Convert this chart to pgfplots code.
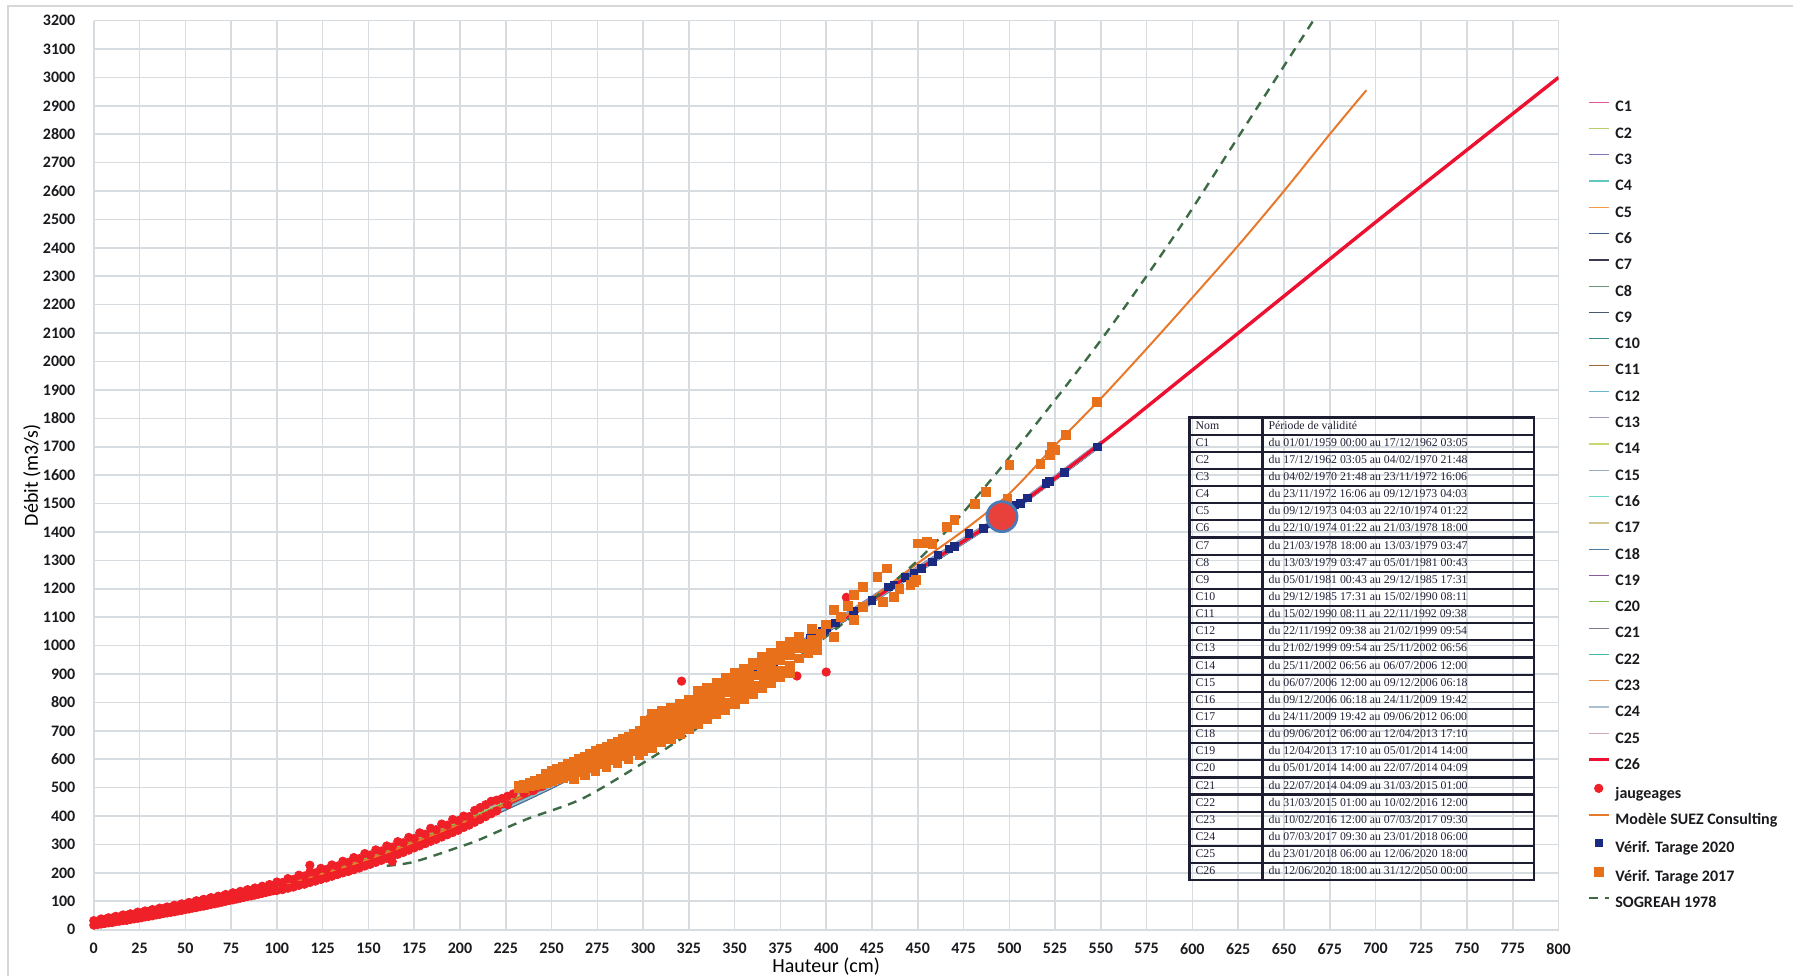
\documentclass[border=0pt]{standalone}
\usepackage{fontspec}
\setmainfont{Carlito}
\newfontfamily\tabfont{Liberation Serif}
\usepackage{pgfplots}
\usepackage{pgfplotstable}
\pgfplotsset{compat=1.18}
\definecolor{gridc}{RGB}{214,220,224}
\definecolor{tickc}{RGB}{26,26,30}
\definecolor{c1}{HTML}{E0569A}
\definecolor{c2}{HTML}{B5CF6B}
\definecolor{c3}{HTML}{7B7BB5}
\definecolor{c4}{HTML}{5FC8C0}
\definecolor{c5}{HTML}{F39A4A}
\definecolor{c6}{HTML}{3F5E8A}
\definecolor{c7}{HTML}{3A3A55}
\definecolor{c8}{HTML}{6A9A7A}
\definecolor{c9}{HTML}{4A5A6A}
\definecolor{c10}{HTML}{3A8A8A}
\definecolor{c11}{HTML}{9A6A3A}
\definecolor{c12}{HTML}{6AB8D0}
\definecolor{c13}{HTML}{9A98C8}
\definecolor{c14}{HTML}{C8D870}
\definecolor{c15}{HTML}{9AA8C0}
\definecolor{c16}{HTML}{70D8C8}
\definecolor{c17}{HTML}{D0C890}
\definecolor{c18}{HTML}{4A7AA0}
\definecolor{c19}{HTML}{8A5AA0}
\definecolor{c20}{HTML}{7AC050}
\definecolor{c21}{HTML}{7A8090}
\definecolor{c22}{HTML}{40B8B0}
\definecolor{c23}{HTML}{E8904A}
\definecolor{c24}{HTML}{A8C0D0}
\definecolor{c25}{HTML}{D0A8B8}
\definecolor{c26}{HTML}{EE1030}
\definecolor{jaug}{HTML}{F02028}
\definecolor{suez}{HTML}{E8782A}
\definecolor{v2020}{HTML}{1B2A80}
\definecolor{v2017}{HTML}{E8701A}
\definecolor{sogreah}{HTML}{3D6B45}
\definecolor{circfill}{HTML}{E8403A}
\definecolor{circedge}{HTML}{4A7AB8}
\definecolor{bordergray}{RGB}{215,215,215}
\definecolor{tabtext}{RGB}{30,30,50}

\pgfplotstableread{
x c1 c2 c3 c4 c5 c6 c7 c8 c9 c10 c11 c12 c13 c14 c15 c16 c17 c18 c19 c20 c21 c22 c23 c24 c25 c26
0 25 24 27 21 23 18 22 24 20 19 23 20 26 24 26 21 23 18 22 24 21 20 23 19 22 22
50 86 84 90 78 82 72 80 83 76 74 81 77 88 85 87 79 82 73 81 84 78 75 82 74 80 80
100 161 157 168 146 154 136 150 156 143 139 152 144 164 158 163 148 154 137 151 156 146 142 153 140 151 150
150 260 255 270 240 250 225 245 253 235 230 248 237 265 257 263 242 251 227 247 254 239 233 249 231 246 245
200 385 380 395 365 375 350 370 378 360 355 373 362 390 382 388 367 376 352 372 379 364 358 374 356 371 370
250 529 524 538 510 520 497 515 522 506 501 518 508 533 526 531 512 520 499 517 523 510 504 519 502 516 515
300 694 690 702 678 686 666 682 688 674 670 684 676 698 692 696 680 687 668 684 689 677 672 685 671 683 682
350 873 869 880 858 866 848 862 868 855 851 864 856 876 870 875 860 866 849 863 868 858 854 865 852 863 862
400 1065 1062 1071 1053 1059 1044 1056 1061 1050 1047 1058 1051 1068 1063 1067 1054 1060 1045 1057 1061 1052 1049 1058 1048 1057 1056
450 1274 1271 1279 1263 1269 1256 1266 1270 1261 1258 1268 1262 1276 1272 1275 1264 1269 1257 1267 1271 1263 1260 1268 1259 1267 1266
500 1478 1476 1482 1470 1474 1464 1472 1475 1468 1466 1473 1469 1480 1477 1479 1471 1474 1465 1473 1476 1470 1467 1474 1466 1472 1472
550 1716 1714 1720 1708 1712 1702 1710 1713 1706 1704 1711 1707 1718 1715 1717 1709 1712 1703 1711 1714 1708 1705 1712 1704 1712 1712
600 nan nan nan nan nan nan nan nan nan nan nan nan nan nan nan nan nan nan nan nan nan nan nan nan 1972 1970
650 nan nan nan nan nan nan nan nan nan nan nan nan nan nan nan nan nan nan nan nan nan nan nan nan 2232 2230
700 nan nan nan nan nan nan nan nan nan nan nan nan nan nan nan nan nan nan nan nan nan nan nan nan 2492 2490
750 nan nan nan nan nan nan nan nan nan nan nan nan nan nan nan nan nan nan nan nan nan nan nan nan 2747 2745
800 nan nan nan nan nan nan nan nan nan nan nan nan nan nan nan nan nan nan nan nan nan nan nan nan 2997 3000
}\curves

\pgfplotsset{
  lineleg/.style={legend image code/.code={\draw[##1] (0pt,2.6pt) -- (10pt,2.6pt);}},
  markleg/.style={legend image code/.code={\draw[##1] plot coordinates {(5pt,2.6pt)};}},
}

\begin{document}
\begin{tikzpicture}[x=1pt,y=1pt]
\useasboundingbox (0,0) rectangle (896.5,488);
\draw[bordergray, line width=0.6pt] (4,0) -- (4,485) -- (896.5,485);
\begin{axis}[
  at={(46.9pt,23.15pt)}, anchor=south west,
  width=732.4pt, height=454.55pt, scale only axis,
  xmin=0, xmax=800, ymin=0, ymax=3200,
  xtick={0,25,...,800}, ytick={0,100,...,3200},
  grid=major, grid style={gridc, line width=0.8pt},
  axis line style={draw=none},
  major tick length=0pt,
  /pgf/number format/assume math mode=true,
  /pgf/number format/1000 sep={},
  tick label style={font=\bfseries\fontsize{8}{9}\selectfont, text=tickc},
  xticklabel style={yshift=-3.3pt},
  yticklabel style={xshift=-5.7pt},
  xlabel={Hauteur (cm)}, ylabel={Débit (m3/s)},
  label style={font=\bfseries\fontsize{8}{9}\selectfont, text=tickc},
  every axis x label/.style={at={(axis description cs:0.5,0)}, anchor=south, yshift=-23.0pt, inner sep=0pt},
  every axis y label/.style={at={(axis description cs:0,0.5)}, xshift=-30.9pt, rotate=90, anchor=center},
  legend style={at={(1.0194,0.9123)}, anchor=north west, draw=none, fill=none,
    inner sep=0pt, outer sep=0pt, row sep=6.15pt, column sep=2.5pt,
    font=\bfseries\fontsize{8}{9}\selectfont, text=tickc,
    nodes={inner sep=0pt, text height=5.8pt, text depth=1.2pt}},
  legend cell align=left,
  every axis plot/.append style={lineleg},
  unbounded coords=discard,
]
\addplot[c1, line width=0.6pt, smooth] table[x=x,y=c1]{\curves};
\addplot[c2, line width=0.6pt, smooth] table[x=x,y=c2]{\curves};
\addplot[c3, line width=0.6pt, smooth] table[x=x,y=c3]{\curves};
\addplot[c4, line width=0.6pt, smooth] table[x=x,y=c4]{\curves};
\addplot[c5, line width=0.6pt, smooth] table[x=x,y=c5]{\curves};
\addplot[c6, line width=0.6pt, smooth] table[x=x,y=c6]{\curves};
\addplot[c7, line width=0.6pt, smooth] table[x=x,y=c7]{\curves};
\addplot[c8, line width=0.6pt, smooth] table[x=x,y=c8]{\curves};
\addplot[c9, line width=0.6pt, smooth] table[x=x,y=c9]{\curves};
\addplot[c10, line width=0.6pt, smooth] table[x=x,y=c10]{\curves};
\addplot[c11, line width=0.6pt, smooth] table[x=x,y=c11]{\curves};
\addplot[c12, line width=0.6pt, smooth] table[x=x,y=c12]{\curves};
\addplot[c13, line width=0.6pt, smooth] table[x=x,y=c13]{\curves};
\addplot[c14, line width=0.6pt, smooth] table[x=x,y=c14]{\curves};
\addplot[c15, line width=0.6pt, smooth] table[x=x,y=c15]{\curves};
\addplot[c16, line width=0.6pt, smooth] table[x=x,y=c16]{\curves};
\addplot[c17, line width=0.6pt, smooth] table[x=x,y=c17]{\curves};
\addplot[c18, line width=0.6pt, smooth] table[x=x,y=c18]{\curves};
\addplot[c19, line width=0.6pt, smooth] table[x=x,y=c19]{\curves};
\addplot[c20, line width=0.6pt, smooth] table[x=x,y=c20]{\curves};
\addplot[c21, line width=0.6pt, smooth] table[x=x,y=c21]{\curves};
\addplot[c22, line width=0.6pt, smooth] table[x=x,y=c22]{\curves};
\addplot[c23, line width=0.6pt, smooth] table[x=x,y=c23]{\curves};
\addplot[c24, line width=0.6pt, smooth] table[x=x,y=c24]{\curves};
\addplot[c25, line width=0.8pt, smooth] table[x=x,y=c25]{\curves};
\addplot[c26, line width=1.7pt, smooth] table[x=x,y=c26]{\curves};
\legend{C1,C2,C3,C4,C5,C6,C7,C8,C9,C10,C11,C12,C13,C14,C15,C16,C17,C18,C19,C20,C21,C22,C23,C24,C25,C26}
% jaugeages
\addplot[only marks, mark=*, mark size=2.1pt, color=jaug, markleg] coordinates {
(0,32)(0,16)(2,30)(2,18)(4,38)(4,20)(6,36)(6,22)(8,42)(8,24)(10,41)(10,25)(12,47)(12,28)(14,45)(14,30)(16,52)(16,32)(18,50)(18,33)
(20,56)(20,36)(22,54)(22,38)(24,62)(24,40)(26,59)(26,42)(28,66)(28,45)(30,64)(30,47)(32,71)(32,49)(34,69)(34,52)(36,76)(36,54)(38,74)(38,57)
(40,80)(40,59)(42,78)(42,61)(44,86)(44,63)(46,84)(46,66)(48,91)(48,68)(50,89)(50,71)(52,96)(52,73)(54,94)(54,76)(56,102)(56,78)(58,99)(58,81)
(60,107)(60,83)(62,105)(62,86)(64,113)(64,89)(66,110)(66,91)(68,118)(68,94)(70,116)(70,97)(72,124)(72,100)(74,122)(74,103)(76,130)(76,105)(78,127)(78,108)
(80,135)(80,111)(82,133)(82,114)(84,141)(84,117)(86,138)(86,119)(88,147)(88,122)(90,144)(90,125)(92,153)(92,128)(94,150)(94,131)(96,159)(96,134)(98,156)(98,137)
(100,168)(100,138)(103,166)(103,141)(106,180)(106,146)(109,177)(109,150)(112,192)(112,156)(115,189)(115,160)(118,203)(118,166)(118,227)(121,200)(121,171)(124,216)(124,177)
(127,212)(127,182)(130,228)(130,188)(133,224)(133,194)(136,241)(136,200)(139,237)(139,205)(142,254)(142,211)(145,250)(145,217)(148,268)(148,224)(151,263)(151,230)
(154,281)(154,237)(157,277)(157,244)(160,295)(160,251)(163,291)(163,258)(163,240)(166,310)(166,265)(169,306)(169,272)(172,325)(172,280)(175,321)(175,288)
(178,341)(178,295)(181,336)(181,303)(184,357)(184,311)(187,352)(187,318)(190,372)(190,326)(193,368)(193,334)(196,388)(196,342)(199,384)(199,350)
(202,400)(202,360)(205,398)(205,368)(208,420)(208,378)(211,430)(211,388)(214,440)(214,398)(217,452)(217,408)(220,456)(220,418)(223,462)(226,470)(226,440)(229,478)
(235,480)(240,490)(245,505)(250,520)(255,532)(260,542)(265,555)
(321,875)(384,893)(400,907)(411,1170)
};
\addlegendentry{jaugeages}
% SUEZ
\addplot[suez, line width=1pt, smooth] coordinates {
(0,22)(50,80)(100,152)(150,248)(200,372)(250,516)(300,684)(350,864)(400,1060)(425,1168)(450,1290)(475,1405)(500,1535)(525,1705)(550,1870)(575,2045)(600,2225)(625,2408)(650,2600)(675,2800)(695,2955)
};
\addlegendentry{Modèle SUEZ Consulting}
% Vérif 2020
\addplot[only marks, mark=square*, mark size=1.9pt, color=v2020, markleg] coordinates {
(268,565)(290,650)(312,725)(330,790)(345,840)(360,905)(366,925)(371,938)(375,955)(380,975)(391,1025)(393,1031)(398,1050)(400,1058)(405,1080)(415,1120)(420,1137)(425,1160)(434,1207)(437,1213)
(443,1240)(448,1254)(452,1272)(458,1295)(461,1320)(467,1340)(470,1350)(478,1395)(486,1413)(490,1430)(503,1495)(506,1500)(510,1520)(520,1570)(522,1577)(530,1610)(548,1700)
};
\addlegendentry{Vérif. Tarage 2020}
% Vérif 2017
\addplot[only marks, mark=square*, mark size=2.2pt, color=v2017, markleg] coordinates {
(232,500)(232,506)(235,498)(235,510)(238,505)(238,518)(241,508)(241,525)(244,512)(244,530)(247,518)(247,538)(247,550)(250,525)(250,545)(250,558)
(253,530)(253,552)(253,565)(256,535)(256,558)(256,575)(259,540)(259,565)(259,585)(262,548)(262,572)(262,592)(265,555)(265,580)(265,600)
(268,562)(268,588)(268,610)(271,568)(271,595)(271,620)(274,575)(274,603)(274,628)(277,582)(277,610)(277,638)(280,590)(280,618)(280,645)
(283,598)(283,626)(283,655)(286,605)(286,634)(286,662)(289,612)(289,642)(289,672)(292,620)(292,650)(292,680)(295,628)(295,660)(295,690)
(298,636)(298,668)(298,700)(301,645)(301,676)(301,708)(301,735)(304,655)(304,685)(304,715)(304,740)(307,664)(307,694)(307,724)(307,748)
(262,530)(268,545)(274,560)(280,572)(286,588)(292,600)(298,615)
(300,630)(305,640)(310,660)(315,672)(320,690)(325,705)(330,725)(335,740)(340,760)(345,775)(350,795)(355,812)(360,830)(365,850)(370,868)(375,888)(380,905)
(305,760)(310,772)(315,782)(320,795)(325,810)(330,840)(335,850)(340,870)(345,885)(350,905)(355,920)(360,940)(365,960)(370,975)(375,1000)(380,1015)(385,1030)(392,1020)
(310,672)(310,705)(310,735)(310,755)(314,688)(314,718)(314,750)(318,700)(318,732)(318,765)(322,712)(322,745)(322,780)(326,728)(326,760)(326,795)
(330,745)(330,778)(330,810)(334,760)(334,792)(334,825)(338,772)(338,805)(338,840)(342,788)(342,820)(342,855)(346,800)(346,835)(346,870)
(350,815)(350,850)(350,885)(354,830)(354,865)(354,900)(358,845)(358,880)(358,915)(362,860)(362,895)(362,930)(366,878)(366,910)(366,945)
(370,895)(370,928)(370,960)(375,912)(375,950)(375,985)(380,930)(380,968)(380,1000)(385,955)(385,990)(385,1015)(390,975)(390,1005)(395,985)(395,1020)
(388,1000)(392,1060)(397,1040)(400,1075)(404,1125)(404,1031)(408,1100)(412,1140)(415,1090)(415,1178)(420,1207)(420,1136)(428,1243)(431,1155)(433,1272)
(437,1172)(440,1200)(446,1215)(448,1225)(449,1231)(450,1360)(453,1360)(455,1366)(458,1358)(466,1418)(470,1442)(481,1500)(487,1541)(499,1518)(500,1635)
(517,1641)(522,1671)(525,1690)(523,1700)(531,1741)(548,1858)
};
\addlegendentry{Vérif. Tarage 2017}
% SOGREAH
\addplot[sogreah, line width=1.2pt, dash pattern=on 4.5pt off 3.5pt, smooth] coordinates {
(160,225)(175,239)(200,292)(211,318)(236,388)(267,462)(302,595)(325,690)(350,800)(375,912)(400,1032)(425,1160)(450,1300)(475,1470)(506,1710)(550,2075)(591,2451)(625,2790)(666,3200)
};
\addlegendentry{SOGREAH 1978}
% highlighted point
\addplot[forget plot, only marks, mark=*, mark size=7.5pt, mark options={fill=circfill, draw=circedge, line width=1.4pt}] coordinates {(496,1454)};
\end{axis}
\node[anchor=north west, inner sep=0pt, text=tabtext] at (594,280) {\tabfont\fontsize{5.9}{7.47}\selectfont
\setlength{\arrayrulewidth}{1.1pt}\setlength{\tabcolsep}{2.5pt}%
\begin{tabular}{|p{30.4pt}|p{129.8pt}|}\hline
Nom & Période de validité\\\hline
C1 & du 01/01/1959 00:00 au 17/12/1962 03:05\\\hline
C2 & du 17/12/1962 03:05 au 04/02/1970 21:48\\\hline
C3 & du 04/02/1970 21:48 au 23/11/1972 16:06\\\hline
C4 & du 23/11/1972 16:06 au 09/12/1973 04:03\\\hline
C5 & du 09/12/1973 04:03 au 22/10/1974 01:22\\\hline
C6 & du 22/10/1974 01:22 au 21/03/1978 18:00\\\hline
C7 & du 21/03/1978 18:00 au 13/03/1979 03:47\\\hline
C8 & du 13/03/1979 03:47 au 05/01/1981 00:43\\\hline
C9 & du 05/01/1981 00:43 au 29/12/1985 17:31\\\hline
C10 & du 29/12/1985 17:31 au 15/02/1990 08:11\\\hline
C11 & du 15/02/1990 08:11 au 22/11/1992 09:38\\\hline
C12 & du 22/11/1992 09:38 au 21/02/1999 09:54\\\hline
C13 & du 21/02/1999 09:54 au 25/11/2002 06:56\\\hline
C14 & du 25/11/2002 06:56 au 06/07/2006 12:00\\\hline
C15 & du 06/07/2006 12:00 au 09/12/2006 06:18\\\hline
C16 & du 09/12/2006 06:18 au 24/11/2009 19:42\\\hline
C17 & du 24/11/2009 19:42 au 09/06/2012 06:00\\\hline
C18 & du 09/06/2012 06:00 au 12/04/2013 17:10\\\hline
C19 & du 12/04/2013 17:10 au 05/01/2014 14:00\\\hline
C20 & du 05/01/2014 14:00 au 22/07/2014 04:09\\\hline
C21 & du 22/07/2014 04:09 au 31/03/2015 01:00\\\hline
C22 & du 31/03/2015 01:00 au 10/02/2016 12:00\\\hline
C23 & du 10/02/2016 12:00 au 07/03/2017 09:30\\\hline
C24 & du 07/03/2017 09:30 au 23/01/2018 06:00\\\hline
C25 & du 23/01/2018 06:00 au 12/06/2020 18:00\\\hline
C26 & du 12/06/2020 18:00 au 31/12/2050 00:00\\\hline
\end{tabular}};
\end{tikzpicture}
\end{document}
